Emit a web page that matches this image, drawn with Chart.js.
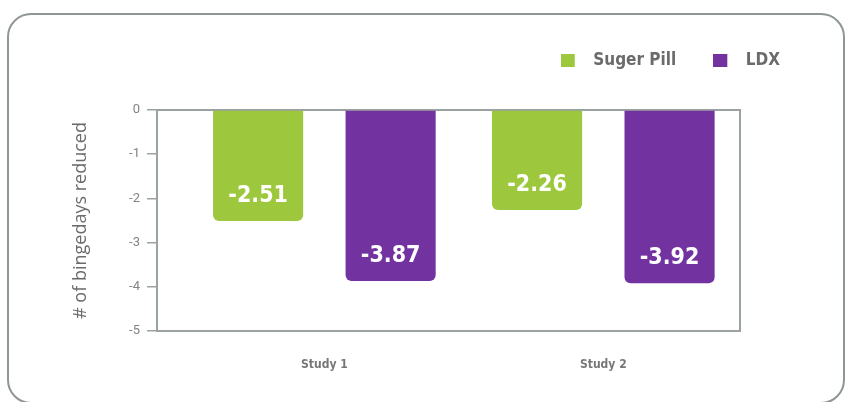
<!DOCTYPE html>
<html>
<head>
<meta charset="utf-8">
<script src="https://cdn.jsdelivr.net/npm/chart.js@4/dist/chart.umd.min.js"></script>
<style>
    html, body { margin: 0; padding: 0; background: #fff; }
    body { width: 847px; height: 402px; position: relative; overflow: hidden; }
    .card {
        position: absolute; left: 7px; top: 13px; width: 834px; height: 387px;
        border: 2px solid #8f9696; border-radius: 24px;
    }
    #chart-wrap { position: absolute; left: 0; top: 0; width: 847px; height: 402px; }
</style>
</head>
<body>
<div class="card"></div>
<div id="chart-wrap"><canvas id="bingeChart"></canvas></div>
<script>
// --- Data ---
const studies = ['Study 1', 'Study 2'];
const studyPos = [1, 2];
const sugerPill = [-2.51, -2.26];
const ldx = [-3.87, -3.92];
const yTicks = [0, -1, -2, -3, -4, -5];

// --- Colors ---
const colors = {
    green: '#9dc83d',
    purple: '#7232a0',
    frame: '#9ba2a2',
    text: '#6b6b6b',
    tick: '#838383'
};
const seriesColors = [colors.green, colors.purple];
const narrowBold = "'DejaVu Sans Condensed', 'DejaVu Sans', sans-serif";

const toPoints = (vals) => vals.map((v, i) => ({ x: studyPos[i], y: v }));

// legend swatch: square on the left of a wider canvas, so the text sits further out
const makeSwatch = (color) => {
    const c = document.createElement('canvas');
    c.width = 24;
    c.height = 13;
    const g = c.getContext('2d');
    g.fillStyle = color;
    g.fillRect(0, 0, 14, 13);
    return c;
};
const swatches = seriesColors.map(makeSwatch);

// legend gets a fixed height so the plot starts lower
const legendHeight = {
    id: 'legendHeight',
    beforeInit(chart) {
        const legend = chart.legend;
        const fit = legend.fit;
        legend.fit = function () {
            fit.call(this);
            this.height = 95;
        };
    }
};

// box around the plot area, under the bars
const plotFrame = {
    id: 'plotFrame',
    beforeDatasetsDraw(chart) {
        const { ctx, chartArea: a } = chart;
        ctx.save();
        ctx.strokeStyle = colors.frame;
        ctx.lineWidth = 2;
        ctx.strokeRect(a.left, a.top, a.right - a.left, a.bottom - a.top);
        ctx.restore();
    }
};

// white value labels near the end of each bar
const barValues = {
    id: 'barValues',
    afterDatasetsDraw(chart) {
        const { ctx } = chart;
        ctx.save();
        ctx.fillStyle = '#fff';
        ctx.font = 'bold 23px ' + narrowBold;
        ctx.textAlign = 'center';
        ctx.textBaseline = 'middle';
        chart.data.datasets.forEach((ds, di) => {
            chart.getDatasetMeta(di).data.forEach((bar, i) => {
                ctx.fillText(ds.data[i].y.toFixed(2), bar.x, bar.y - 25);
            });
        });
        ctx.restore();
    }
};

new Chart(document.getElementById('bingeChart'), {
    type: 'bar',
    data: {
        datasets: [
            { label: 'Suger Pill', data: toPoints(sugerPill), backgroundColor: colors.green },
            { label: 'LDX', data: toPoints(ldx), backgroundColor: colors.purple }
        ]
    },
    options: {
        responsive: true,
        maintainAspectRatio: false,
        animation: false,
        categoryPercentage: 0.95,
        barPercentage: 0.68,
        borderRadius: 6,
        layout: { padding: { top: 15, right: 30, bottom: 0, left: 60 } },
        plugins: {
            tooltip: { enabled: false },
            legend: {
                position: 'top',
                align: 'end',
                labels: {
                    usePointStyle: true,
                    pointStyleWidth: 24,
                    boxHeight: 13,
                    padding: 37,
                    color: colors.text,
                    font: { family: narrowBold, size: 17, weight: 'bold' },
                    generateLabels: (chart) =>
                        Chart.defaults.plugins.legend.labels.generateLabels(chart)
                            .map((item, i) => ({ ...item, pointStyle: swatches[i] }))
                }
            }
        },
        scales: {
            x: {
                type: 'linear',
                offset: false,
                min: 0.4,
                max: 2.49,
                grid: { display: false, drawTicks: false },
                border: { display: false },
                afterBuildTicks: (axis) => { axis.ticks = studyPos.map(v => ({ value: v })); },
                afterFit: (s) => { s.height = 71; },
                ticks: {
                    padding: 27,
                    color: '#767676',
                    font: { family: narrowBold, size: 12, weight: 'bold' },
                    callback: (v, i) => studies[i]
                }
            },
            y: {
                min: -5,
                max: 0,
                afterBuildTicks: (axis) => { axis.ticks = yTicks.map(v => ({ value: v })); },
                afterFit: (s) => { s.width = 97; },
                grid: {
                    drawOnChartArea: false,
                    drawTicks: true,
                    tickLength: 10,
                    color: colors.frame,
                    lineWidth: 1.5
                },
                border: { display: false },
                ticks: {
                    padding: 7,
                    color: colors.tick,
                    font: { family: 'Roboto', size: 13 }
                },
                title: {
                    display: true,
                    text: '# of bingedays reduced',
                    color: colors.text,
                    padding: { top: 10, bottom: 0 },
                    font: { family: "'Open Sans', sans-serif", size: 18 }
                }
            },
            yRight: {
                position: 'right',
                grid: { display: false },
                border: { display: false },
                ticks: { display: false },
                afterFit: (s) => { s.width = 77; }
            }
        }
    },
    plugins: [legendHeight, plotFrame, barValues]
});
</script>
</body>
</html>
